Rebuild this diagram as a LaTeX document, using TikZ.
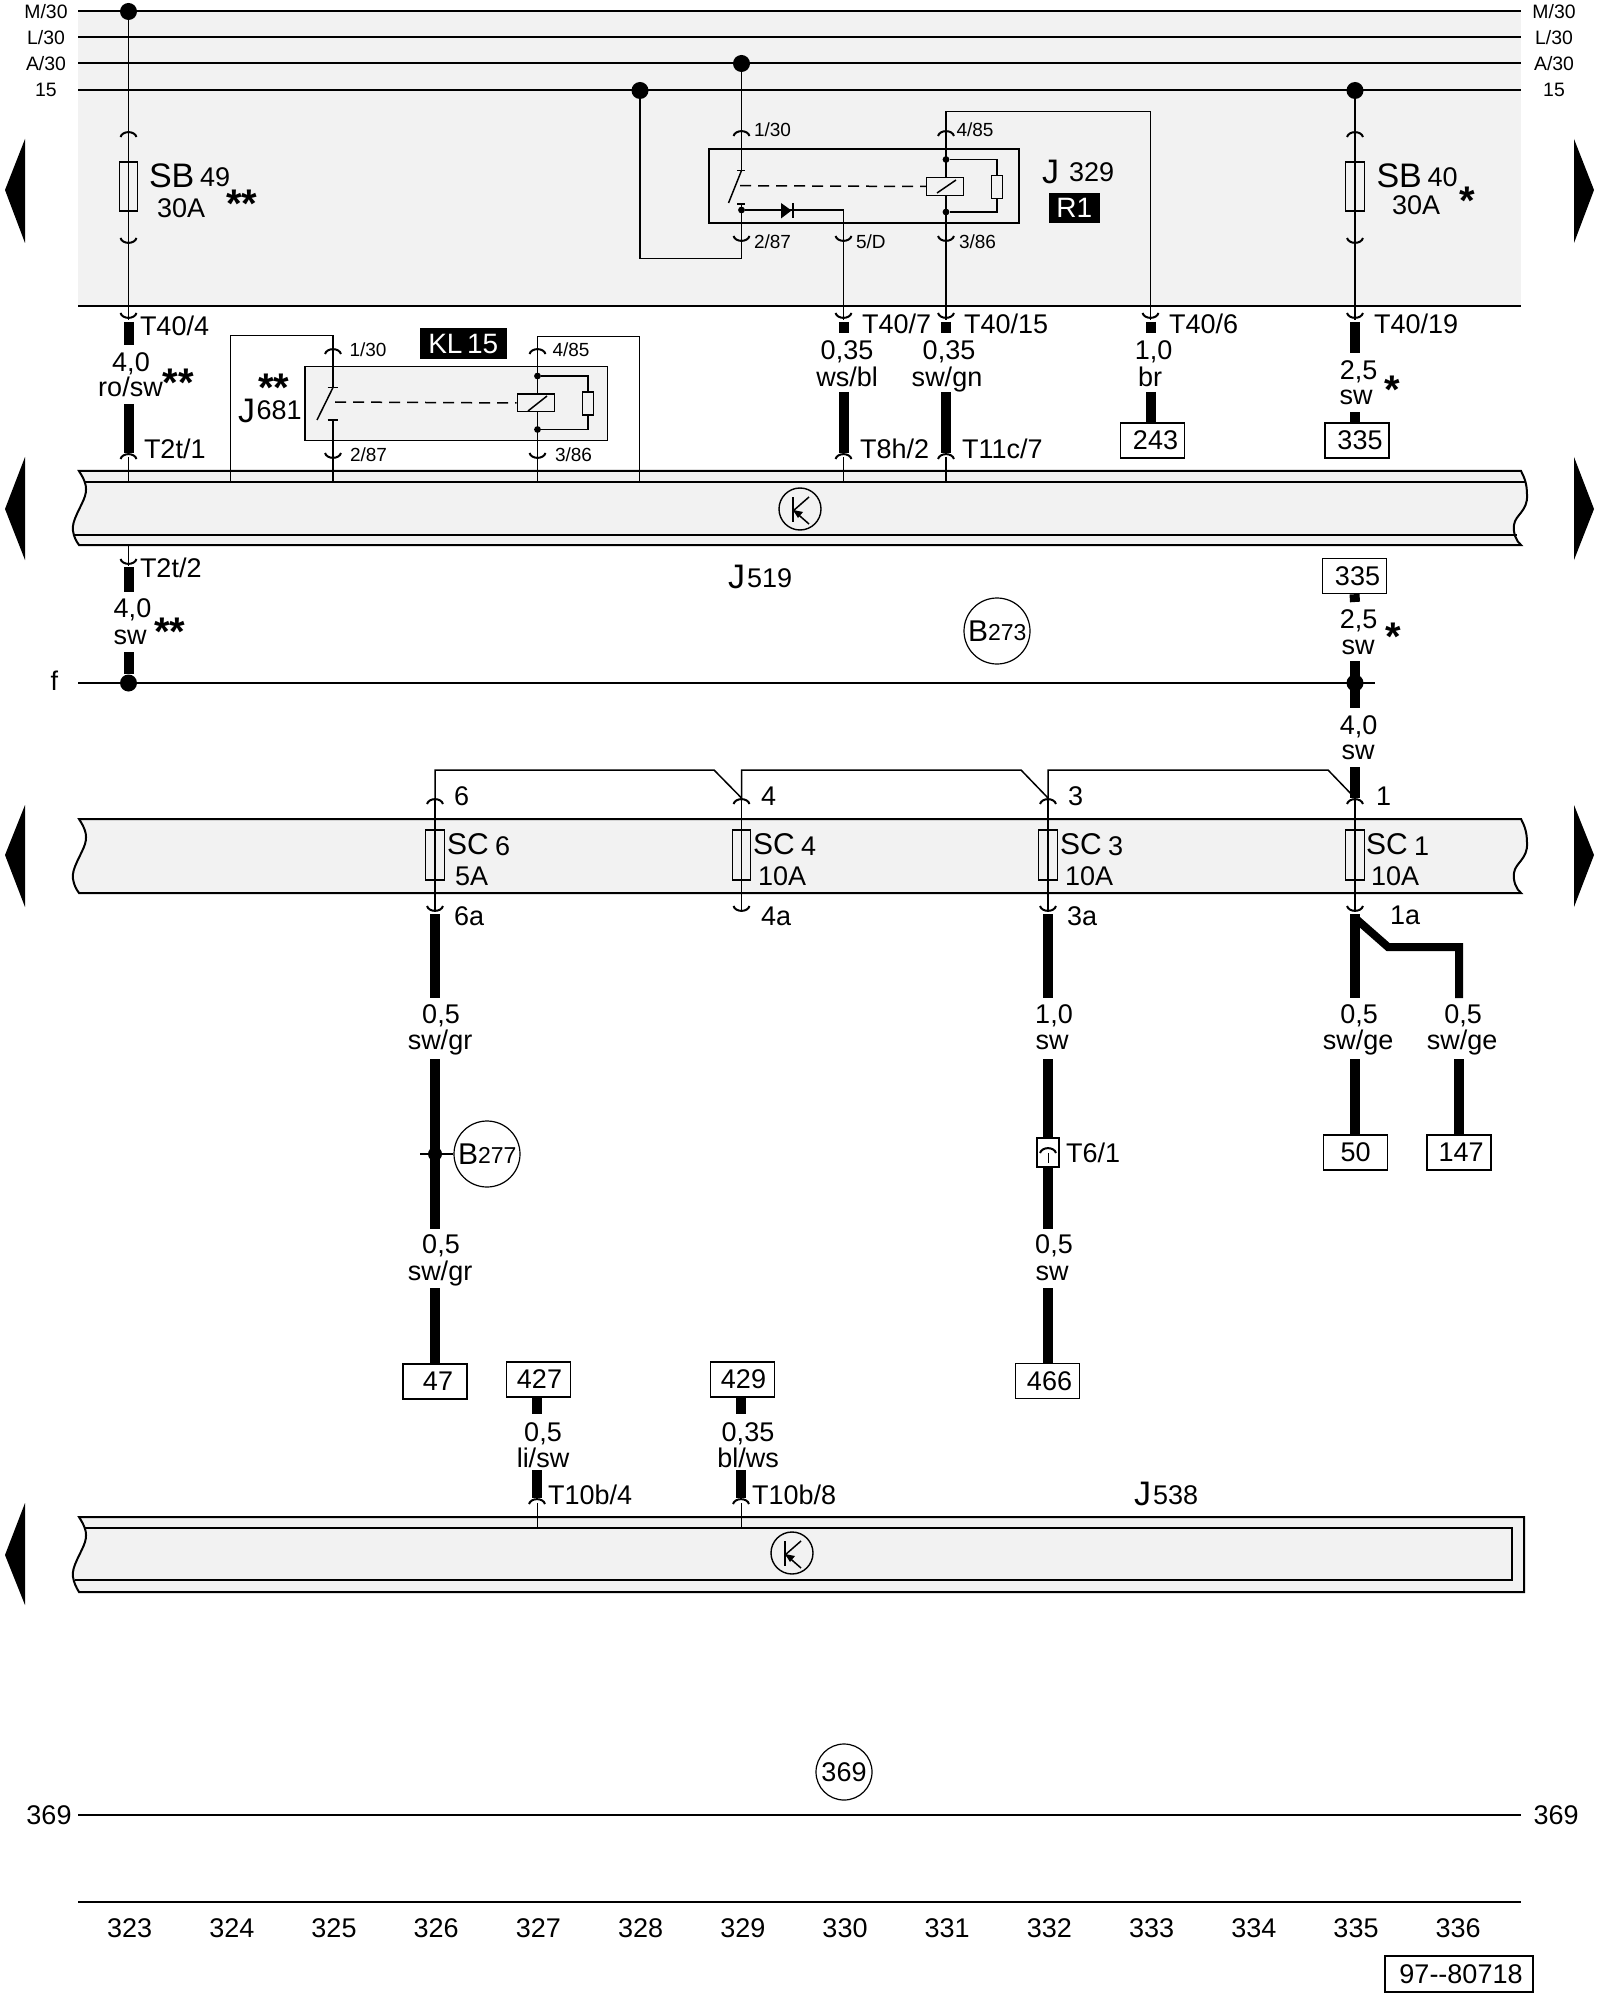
\documentclass[tikz,border=0pt]{standalone}
\usepackage{fontspec}
\setmainfont{Liberation Sans}
\newcounter{lbl}
\newcommand\cz[1]{\raisebox{0pt}[.72em][0pt]{#1}}
\newcommand\Lw[4]{\stepcounter{lbl}\node[txt,anchor=west] (t\arabic{lbl}) at (#1,#2) {\fontsize{#3}{#3}\selectfont\cz{#4}};}
\newcommand\Lc[4]{\stepcounter{lbl}\node[txt,anchor=center] (t\arabic{lbl}) at (#1,#2) {\fontsize{#3}{#3}\selectfont\cz{#4}};}
\newcommand\Stars[3]{\stepcounter{lbl}\node[txt,anchor=base] (t\arabic{lbl}) at (#1,{#2+19.5}) {\fontsize{20}{20}\selectfont\bfseries #3};}
\newcommand\CapUp[2]{\draw[capline] ({#1-8},{#2+7}) .. controls ({#1-6},{#2+.5}) and ({#1+6},{#2+.5}) .. ({#1+8},{#2+7});}
\newcommand\CupDn[2]{\draw[capline] ({#1-8},{#2-7}) .. controls ({#1-6},{#2-.5}) and ({#1+6},{#2-.5}) .. ({#1+8},{#2-7});}
\newcommand\Band[1]{%
 \draw[busline,fill=bandgrey] (79,#1) .. controls (84,{#1+8}) and (88,{#1+15}) .. (85,{#1+25}) .. controls (82,{#1+35}) and (71,{#1+50}) .. (73,{#1+60}) .. controls (74,{#1+66}) and (76,{#1+70}) .. (79,{#1+74}) -- (1521,{#1+74}) .. controls (1516,{#1+70}) and (1513,{#1+62}) .. (1514,{#1+54}) .. controls (1515,{#1+44}) and (1528,{#1+40}) .. (1527,{#1+24}) .. controls (1527,{#1+12}) and (1524,{#1+6}) .. (1521,#1) -- cycle;}
\newcommand\Ksym[3]{%
 \node[ksymb] (#1) at (#2,#3) {};
 \draw[wire] ({#2-7},{#3-12}) -- ({#2-7},{#3+13});
 \draw[wire] ({#2-7},{#3+2}) -- ({#2+9},{#3-12});
 \draw[wire] ({#2-7},{#3+1}) -- ({#2+9},{#3+15});
 \fill ({#2-7},{#3+1}) -- ({#2+3},{#3+3}) -- ({#2-2},{#3+9}) -- cycle;}
\tikzset{
 x=0.5pt,y=-0.5pt,
 txt/.style={inner sep=0pt,outer sep=0pt},
 wire/.style={line width=.75pt,line cap=butt},
 capline/.style={line width=1pt},
 busline/.style={line width=1pt},
 heavy/.style={line width=5pt},
 dotbig/.style={circle,fill=black,inner sep=0pt,minimum size=8.5pt},
 dotsmall/.style={circle,fill=black,inner sep=0pt,minimum size=3.4pt},
 fuse/.style={draw,line width=.6pt,inner sep=0pt,minimum width=9.2pt,minimum height=24.5pt},
 reg/.style={draw,line width=.6pt,inner sep=0pt,minimum width=5.8pt,minimum height=11.5pt},
 coil/.style={draw,line width=.7pt,inner sep=0pt,minimum width=18.5pt,minimum height=8.8pt},
 relaybox/.style={draw,line width=.8pt,fill=bandgrey,inner sep=0pt},
 refbox/.style={draw,line width=.7pt,fill=white,inner sep=0pt,minimum width=32pt,minimum height=17.5pt},
 tag/.style={fill=black,text=white,inner sep=0pt},
 ring/.style={draw,circle,line width=.6pt,inner sep=0pt,minimum size=33pt},
 ksymb/.style={draw,circle,line width=.7pt,inner sep=0pt,minimum size=21pt},
}
\definecolor{bandgrey}{HTML}{F2F2F2}
\begin{document}
\begin{tikzpicture}
\useasboundingbox (0,0) rectangle (1600,2000);
\fill[white] (0,0) rectangle (1600,2000);
\def\xA{128.5}\def\xC{333}\def\xD{435}\def\xF{640}\def\xG{741.5}\def\xH{843.5}\def\xI{946}\def\xJ{1048}\def\xK{1150.5}\def\xM{1355}
% grey field
\fill[bandgrey] (78,11.5) rectangle (1521,306);
% side triangles
\foreach \a/\b/\c in {139/190/243,457/509/560,805/855/907,1503/1555/1605}{\fill (25,\a) -- (5,\b) -- (25,\c) -- cycle;}
\foreach \a/\b/\c in {139/190/243,457/509/560,805/855/907}{\fill (1574,\a) -- (1594,\b) -- (1574,\c) -- cycle;}
% bands
\Band{471}
\Band{819}
% J538 band
\draw[busline,fill=bandgrey] (79,1517) .. controls (84,1525) and (88,1532) .. (85,1542) .. controls (82,1552) and (71,1567) .. (73,1577) .. controls (74,1583) and (76,1587) .. (79,1592) -- (1524,1592) -- (1524,1517) -- cycle;
\coordinate (bJa) at (84,1528); \coordinate (bJb) at (1512,1528); \coordinate (bJc) at (1512,1580); \coordinate (bJd) at (75,1580);
\draw[busline] (bJa) -- (bJb) -- (bJc) -- (bJd);
\coordinate (bAa) at (84.5,482); \coordinate (bAb) at (1525,482); \coordinate (bAc) at (74,534.6); \coordinate (bAd) at (1517,534.6);
\draw[busline] (bAa) -- (bAb); \draw[busline] (bAc) -- (bAd);
% bus lines
\foreach \n/\y in {M/11.5,L/37.5,A/63.5,B/90.5}{
 \coordinate (bus\n l) at (78,\y); \coordinate (bus\n r) at (1521,\y);
 \draw[busline] (bus\n l) -- (bus\n r);}
\coordinate (fieldl) at (78,306); \coordinate (fieldr) at (1521,306);
\draw[busline] (fieldl) -- (fieldr);
\coordinate (fl) at (78,683); \coordinate (fr) at (1375,683);
\draw[busline] (fl) -- (fr);
\coordinate (rl) at (78,1815); \coordinate (rr) at (1521,1815);
\draw[busline] (rl) -- (rr);
\coordinate (nl) at (78,1902); \coordinate (nr) at (1521,1902);
\draw[busline] (nl) -- (nr);
% bus dots
\node[dotbig] (dA) at (\xA,11.5) {};
\node[dotbig] (dG) at (\xG,63.5) {};
\node[dotbig] (dF) at (\xF,90.5) {};
\node[dotbig] (dM) at (\xM,90.5) {};
\node[dotbig] (dfA) at (\xA,683) {};
\node[dotbig] (dfM) at (\xM,683) {};
% ---- column A
\coordinate (a1) at (\xA,320);
\draw[wire] (dA) -- (a1);
\CapUp{\xA}{130}\CupDn{\xA}{245}\CupDn{\xA}{320}
\node[fuse] (SB49) at (\xA,186.5) {};
\coordinate (a2) at (\xA,322); \coordinate (a3) at (\xA,345);
\coordinate (a4) at (\xA,404); \coordinate (a5) at (\xA,453);
\draw[heavy] (a2) -- (a3); \draw[heavy] (a4) -- (a5);
\CapUp{\xA}{452}
\coordinate (a6) at (\xA,457); \coordinate (a7) at (\xA,482);
\draw[wire] (a6) -- (a7);
\coordinate (a8) at (\xA,545); \coordinate (a9) at (\xA,566);
\draw[wire] (a8) -- (a9);
\CupDn{\xA}{566}
\coordinate (a10) at (\xA,567); \coordinate (a11) at (\xA,592); \coordinate (a12) at (\xA,652);
\draw[heavy] (a10) -- (a11); \draw[heavy] (a12) -- (dfA);
% ---- J329 relay
\node[relaybox,minimum width=155pt,minimum height=37pt] (J329) at (864,186) {};
\coordinate (r1) at (\xG,170.5); \draw[wire] (dG) -- (r1);
\CapUp{\xG}{129}
\coordinate (r2) at (737,170.5); \coordinate (r3) at (745,170.5); \draw[wire] (r2) -- (r3);
\coordinate (r4) at (728.5,203); \draw[wire] (r4) -- (r1);
\coordinate (r5) at (737,204); \coordinate (r6) at (745,204); \draw[wire] (r5) -- (r6);
\node[dotsmall] (rd1) at (\xG,210) {};
\coordinate (r7) at (\xG,204); \coordinate (r8) at (\xG,258.5); \coordinate (r9) at (\xF,258.5);
\draw[wire] (r7) -- (r8) -- (r9) -- (dF);
\CupDn{\xG}{243}
\coordinate (r10) at (\xH,210); \coordinate (r11) at (\xH,320);
\draw[wire] (rd1) -- (r10) -- (r11);
\CupDn{\xH}{243}\CupDn{\xH}{320}
\coordinate (di1) at (781,203); \coordinate (di2) at (781,218.5); \coordinate (di3) at (791.5,210.5);
\fill (di1) -- (di3) -- (di2) -- cycle;
\coordinate (di4) at (793,203); \coordinate (di5) at (793,218.5); \draw[wire] (di4) -- (di5);
\coordinate (rs) at (740,185.7);\node[coil] (rcoil) at (945,186.5) {};
\draw[wire,dash pattern=on 5.5pt off 3.5pt] (rs) -- (rcoil.west);
\coordinate (rc1) at (937,193); \coordinate (rc2) at (956,180); \draw[wire] (rc1) -- (rc2);
\coordinate (s1) at (\xI,111.5); \coordinate (s2) at (\xK,111.5); \coordinate (s3) at (\xK,320); \coordinate (s4) at (\xI,178);
\draw[wire] (s4) -- (s1) -- (s2) -- (s3);
\CapUp{\xI}{129}\CupDn{\xI}{243}\CupDn{\xI}{320}\CupDn{\xK}{320}
\coordinate (s5) at (\xI,195); \coordinate (s6) at (\xI,320); \draw[wire] (s5) -- (s6);
\node[dotsmall] (rd2) at (\xI,159.5) {};
\node[dotsmall] (rd3) at (\xI,212) {};
\node[reg] (rreg) at (997,187) {};
\coordinate (s7) at (997,159.5); \coordinate (s8) at (997,212);
\draw[wire] (rd2) -- (s7) -- (rreg.north); \draw[wire] (rreg.south) -- (s8) -- (rd3);
% thick under T40
\foreach \n/\x/\l in {H/\xH/333,I/\xI/333,K/\xK/333,M/\xM/353}{
 \coordinate (u\n a) at (\x,322); \coordinate (u\n b) at (\x,\l); \draw[heavy] (u\n a) -- (u\n b);}
\foreach \n/\x in {H/\xH,I/\xI}{
 \coordinate (v\n a) at (\x,392); \coordinate (v\n b) at (\x,453); \draw[heavy] (v\n a) -- (v\n b);
 \CapUp{\x}{452}
 \coordinate (v\n c) at (\x,457); \coordinate (v\n d) at (\x,482); \draw[wire] (v\n c) -- (v\n d);}
% ---- column M
\coordinate (m1) at (\xM,320); \draw[wire] (dM) -- (m1);
\CapUp{\xM}{130}\CupDn{\xM}{245}\CupDn{\xM}{320}
\node[fuse] (SB40) at (\xM,186.5) {};
% ref boxes
\node[refbox] (b243) at (1152.5,440.5) {\fontsize{13.5}{13.5}\selectfont\kern3pt 243};
\node[refbox] (b335a) at (1357,440.5) {\fontsize{13.5}{13.5}\selectfont\kern3pt 335};
\coordinate (k1) at (\xK,392); \coordinate (k2) at (\xM,412.5);
\draw[heavy] (k1) -- (k1|-b243.north); \draw[heavy] (k2) -- (k2|-b335a.north);
% ---- J681 relay
\node[relaybox,minimum width=151.3pt,minimum height=37pt] (J681) at (456.3,403.7) {};
\coordinate (h1) at (230.7,482); \coordinate (h2) at (230.7,335.7); \coordinate (h3) at (\xC,335.7); \coordinate (h4) at (\xC,387.5);
\draw[wire] (h1) -- (h2) -- (h3) -- (h4);
\CapUp{\xC}{347}
\coordinate (h5) at (327.5,387.5); \coordinate (h6) at (338,387.5); \draw[wire] (h5) -- (h6);
\coordinate (h7) at (317,420); \draw[wire] (h7) -- (h4);
\coordinate (h8) at (327.5,420); \coordinate (h9) at (338,420); \draw[wire] (h8) -- (h9);
\coordinate (h10) at (\xC,420); \coordinate (h11) at (\xC,482); \draw[wire] (h10) -- (h11);
\CupDn{\xC}{460}
\coordinate (g1) at (537.5,336.7); \coordinate (g2) at (639.5,336.7); \coordinate (g3) at (639.5,482); \coordinate (g4) at (537.5,394);
\draw[wire] (g4) -- (g1) -- (g2) -- (g3);
\CapUp{537.5}{347}\CupDn{537.5}{460}
\coordinate (g5) at (537.5,412); \coordinate (g6) at (537.5,482); \draw[wire] (g5) -- (g6);
\node[coil] (hcoil) at (535.7,403) {};
\coordinate (hs) at (335,402); \draw[wire,dash pattern=on 5.5pt off 3.5pt] (hs) -- (hcoil.west);
\coordinate (hc1) at (528,411); \coordinate (hc2) at (547,396); \draw[wire] (hc1) -- (hc2);
\node[dotsmall] (hd1) at (537.5,376) {};
\node[dotsmall] (hd2) at (537.5,429.5) {};
\node[reg] (hreg) at (588,403.5) {};
\coordinate (g7) at (588,376); \coordinate (g8) at (588,429.5);
\draw[wire] (hd1) -- (g7) -- (hreg.north); \draw[wire] (hreg.south) -- (g8) -- (hd2);
% ---- circles
\Ksym{kA}{800}{509}
\Ksym{kB}{792}{1553}
\node[ring] (B273) at (997,631) {};
\node[ring] (B277) at (487,1154) {};
\node[ring,minimum size=28pt] (C369) at (844,1772) {\fontsize{13.5}{13.5}\selectfont 369};
% ---- right f part
\node[refbox] (b335b) at (1354.5,576) {\fontsize{13.5}{13.5}\selectfont\kern3pt 335};
\coordinate (n1) at (\xM,602); \draw[heavy] (b335b.south) -- (n1);
\coordinate (n2) at (\xM,661); \coordinate (n3) at (\xM,708); \draw[heavy] (n2) -- (n3);
\coordinate (n4) at (\xM,767); \coordinate (n5) at (\xM,798); \draw[heavy] (n4) -- (n5);
% ---- SC band
\foreach \n/\x in {6/\xD,4/\xG,3/\xJ,1/\xM}{
 \coordinate (sct\n) at (\x,798); \coordinate (scb\n) at (\x,912);
 \draw[wire] (sct\n) -- (scb\n);
 \CapUp{\x}{797}\CupDn{\x}{913}
 \node[fuse,minimum height=25pt] (SC\n) at (\x,855) {};}
\foreach \a/\b/\bx/\ax in {6/4/714/\xD,4/3/1021/\xG,3/1/1328/\xJ}{
 \coordinate (lk\a a) at (\ax,770); \coordinate (lk\a b) at (\bx,770);
 \draw[wire] (sct\a) -- (lk\a a) -- (lk\a b) -- (sct\b);}
% ---- below SC
\coordinate (x1) at (\xD,914); \coordinate (x2) at (\xD,998); \coordinate (x3) at (\xD,1059); \coordinate (x3e) at (\xD,1229); \coordinate (x4) at (\xD,1288);
\draw[heavy] (x1) -- (x2);
\node[refbox] (b47) at (435,1381.5) {\fontsize{13.5}{13.5}\selectfont\kern3pt 47};
\draw[heavy] (x3) -- (x3e);
\draw[heavy] (x4) -- (b47.north);
\node[dotbig,minimum size=7pt] (dB277) at (\xD,1154) {};
\coordinate (x6) at (420,1154); \draw[wire] (x6) -- (B277.west);
\coordinate (y1) at (\xJ,914); \coordinate (y2) at (\xJ,998); \coordinate (y3) at (\xJ,1059); \coordinate (y3e) at (\xJ,1229); \coordinate (y4) at (\xJ,1288);
\draw[heavy] (y1) -- (y2);
\node[refbox] (b466) at (1047.5,1381) {\fontsize{13.5}{13.5}\selectfont\kern2pt 466};
\node[draw,fill=white,line width=.7pt,inner sep=0pt,minimum width=11pt,minimum height=14.5pt] (T6) at (\xJ,1152.5) {};
\draw[heavy] (y3) -- (T6.north); \draw[heavy] (T6.south) -- (y3e);
\draw[heavy] (y4) -- (y4|-b466.north);
\CapUp{\xJ}{1146}
\coordinate (y5) at (\xJ,1153); \coordinate (y6) at (\xJ,1163); \draw[line width=.5pt] (y5) -- (y6);
\coordinate (z1) at (\xM,914); \coordinate (z2) at (\xM,998); \coordinate (z3) at (\xM,1059);
\draw[heavy] (z1) -- (z2);
\node[refbox] (b50) at (1355.5,1152.5) {\fontsize{13.5}{13.5}\selectfont 50};
\node[refbox] (b147) at (1459,1152.5) {\fontsize{13.5}{13.5}\selectfont\kern2pt 147};
\draw[heavy] (z3) -- (z3|-b50.north);
\coordinate (z4) at (\xM,918); \coordinate (z5) at (1388,947); \coordinate (z6) at (1459,947); \coordinate (z7) at (1459,998);
\draw[line width=4pt] (z4) -- (z5) -- (z6) -- (z7);
\coordinate (z8) at (1459,1059); \draw[heavy] (z8) -- (b147.north);
% ---- J538 inputs
\node[refbox] (b427) at (538.5,1379.5) {\fontsize{13.5}{13.5}\selectfont\kern1pt 427};
\node[refbox] (b429) at (742.5,1379.5) {\fontsize{13.5}{13.5}\selectfont\kern1pt 429};
\foreach \n/\x in {427/537,429/741}{
 \coordinate (q\n z) at (\x,1397); \coordinate (q\n a) at (\x,1414); \draw[heavy] (q\n z) -- (q\n a);
 \coordinate (q\n b) at (\x,1470); \coordinate (q\n c) at (\x,1498); \draw[heavy] (q\n b) -- (q\n c);
 \CapUp{\x}{1497}
 \coordinate (q\n d) at (\x,1503); \coordinate (q\n e) at (\x,1528); \draw[line width=.5pt] (q\n d) -- (q\n e);}
% ---- doc box
\node[draw,line width=.8pt,inner sep=0pt,minimum width=74pt,minimum height=18pt] (doc) at (1459,1974) {\fontsize{13.5}{13.5}\selectfont\kern2pt 97-{}-80718};
% ---- tags
\node[tag,minimum width=43.3pt,minimum height=15.6pt] (KL15) at (463.3,343.6) {\fontsize{14}{14}\selectfont KL\,15};
\node[tag,minimum width=25.7pt,minimum height=15.2pt] (R1) at (1074.2,208.2) {\fontsize{14}{14}\selectfont R1};
% ---- left/right bus labels
\foreach \n/\y in {M\slash30/12,L\slash30/38,A\slash30/64,15/90}{
 \Lc{46}{\y}{9.7}{\n}\Lc{1554}{\y}{9.7}{\n}}
\Lc{54.5}{681}{13.5}{f}
\Lc{49}{1815}{13.5}{369}\Lc{1556}{1815}{13.5}{369}
% SB labels
\Lw{149}{175}{17}{SB}\Lw{200}{177}{13.5}{49}\Lw{157}{208}{13.5}{30A}\Stars{242}{198}{**}
\Lw{1376.5}{175}{17}{SB}\Lw{1427.5}{177}{13.5}{40}\Lw{1392}{205}{13.5}{30A}\Stars{1467}{195}{*}
% relay labels
\Lw{754}{130}{9.5}{1/30}\Lw{956.5}{130}{9.5}{4/85}\Lw{754}{242}{9.5}{2/87}\Lw{856}{242}{9.5}{5/D}\Lw{959}{242}{9.5}{3/86}
\Lw{349.5}{350}{9.5}{1/30}\Lw{552.5}{350}{9.5}{4/85}\Lw{350}{455}{9.5}{2/87}\Lw{555}{455}{9.5}{3/86}
\Lw{1042}{171}{17}{J}\Lw{1069}{172}{13.5}{329}
\Lw{238}{410}{17}{J}\Lw{256.5}{410}{13.5}{681}\Stars{274}{382}{**}
\Lw{728}{576}{17}{J}\Lw{747}{578}{13.5}{519}
\Lw{1134}{1493}{17}{J}\Lw{1153}{1495}{13.5}{538}
% T labels
\Lw{140}{326}{13.5}{T40/4}\Lw{862}{324}{13.5}{T40/7}\Lw{964}{324}{13.5}{T40/15}\Lw{1169}{324}{13.5}{T40/6}\Lw{1374}{324}{13.5}{T40/19}
\Lw{144}{449}{13.5}{T2t/1}\Lw{860}{449}{13.5}{T8h/2}\Lw{962}{449}{13.5}{T11c/7}\Lw{140}{568}{13.5}{T2t/2}
\Lw{548}{1495}{13.5}{T10b/4}\Lw{752}{1495}{13.5}{T10b/8}\Lw{1066}{1153}{13.5}{T6/1}
% wire sizes
\Lc{131}{362}{13.5}{4,0}\Lc{130.5}{387}{13.5}{ro/sw}\Stars{178.5}{377}{**}
\Lc{847}{350}{13.5}{0,35}\Lc{847}{377}{13.5}{ws/bl}
\Lc{949}{350}{13.5}{0,35}\Lc{947}{377}{13.5}{sw/gn}
\Lc{1153.5}{350}{13.5}{1,0}\Lc{1150}{377}{13.5}{br}
\Lc{1358.5}{370}{13.5}{2,5}\Lc{1356}{395}{13.5}{sw}\Stars{1392}{384}{*}
\Lc{132.5}{608}{13.5}{4,0}\Lc{130}{635}{13.5}{sw}\Stars{170}{626}{**}
\Lc{1358.5}{619}{13.5}{2,5}\Lc{1358}{645}{13.5}{sw}\Stars{1393}{631}{*}
\Lc{1358.5}{725}{13.5}{4,0}\Lc{1358}{750}{13.5}{sw}
\Lc{441}{1014}{13.5}{0,5}\Lc{440}{1040}{13.5}{sw/gr}\Lc{441}{1244}{13.5}{0,5}\Lc{440}{1271}{13.5}{sw/gr}
\Lc{1054}{1014}{13.5}{1,0}\Lc{1052}{1040}{13.5}{sw}\Lc{1054}{1244}{13.5}{0,5}\Lc{1052}{1271}{13.5}{sw}
\Lc{1359}{1014}{13.5}{0,5}\Lc{1358}{1040}{13.5}{sw/ge}\Lc{1463}{1014}{13.5}{0,5}\Lc{1462}{1040}{13.5}{sw/ge}
\Lc{543}{1432}{13.5}{0,5}\Lc{543}{1458}{13.5}{li/sw}\Lc{748}{1432}{13.5}{0,35}\Lc{748}{1458}{13.5}{bl/ws}
% SC labels
\foreach \x/\k/\am/\pre in {447/6/5A/8,753/4/10A/5,1060/3/10A/5,1366/1/10A/5}{
 \Lw{\x}{844}{15}{SC}\Lw{\x+48}{846}{13.5}{\k}\Lw{\x+\pre}{876}{13.5}{\am}}
\Lw{454}{796}{13.5}{6}\Lw{761}{796}{13.5}{4}\Lw{1068}{796}{13.5}{3}\Lw{1376}{796}{13.5}{1}
\Lw{454}{916}{13.5}{6a}\Lw{761}{916}{13.5}{4a}\Lw{1067}{916}{13.5}{3a}\Lw{1390}{915}{13.5}{1a}
% ring labels
\Lw{968}{631}{15}{B}\Lw{988}{632}{11.5}{273}
\Lw{458}{1154}{15}{B}\Lw{478}{1155}{11.5}{277}
% column numbers
\foreach \n [count=\i from 0] in {323,...,336}{
 \pgfmathsetmacro\cx{129.6+102.2*\i}
 \Lc{\cx}{1928}{13.5}{\n}}
\end{tikzpicture}
\end{document}
